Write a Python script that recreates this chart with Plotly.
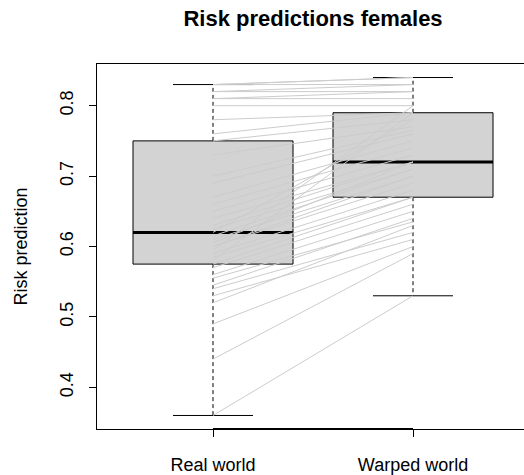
import numpy as np
import plotly.graph_objects as go

categories = ["Real world", "Warped world"]
title_text = "Risk predictions females"
y_label = "Risk prediction"
y_ticks = [0.4, 0.5, 0.6, 0.7, 0.8]

real_world = [0.36, 0.44, 0.49, 0.52, 0.53, 0.54, 0.545, 0.555, 0.56, 0.57,
              0.575, 0.58, 0.585, 0.59, 0.595, 0.60, 0.60, 0.605, 0.61, 0.615,
              0.62, 0.625, 0.63, 0.64, 0.65, 0.66, 0.67, 0.69, 0.70, 0.73,
              0.75, 0.76, 0.78, 0.80, 0.81, 0.81, 0.82, 0.82, 0.83, 0.83, 0.83]
warped_world = [0.53, 0.59, 0.60, 0.63, 0.61, 0.62, 0.64, 0.635, 0.65, 0.66,
                0.67, 0.79, 0.67, 0.68, 0.80, 0.69, 0.70, 0.72, 0.70, 0.71,
                0.78, 0.71, 0.72, 0.72, 0.73, 0.74, 0.75, 0.76, 0.765, 0.77,
                0.78, 0.79, 0.79, 0.80, 0.81, 0.82, 0.82, 0.83, 0.83, 0.84, 0.84]

FONT = "Liberation Sans, Arial, Helvetica, sans-serif"
BOX_HALF = 0.4
CAP_HALF = 0.2

W, H = 524, 475
ML, MT, MB = 97, 64, 46
PW = W - ML


def fivenum(v):
    v = np.sort(np.asarray(v, dtype=float))
    n = len(v)
    n4 = np.floor((n + 3) / 2) / 2
    d = np.array([1, n4, (n + 1) / 2, n + 1 - n4, n]) - 1
    return 0.5 * (v[np.floor(d).astype(int)] + v[np.ceil(d).astype(int)])


def box_stats(v):
    v = np.asarray(v, dtype=float)
    mn, q1, med, q3, mx = fivenum(v)
    iqr = q3 - q1
    lo = v[v >= q1 - 1.5 * iqr].min()
    hi = v[v <= q3 + 1.5 * iqr].max()
    return lo, q1, med, q3, hi


fig = go.Figure()

for i, vals in enumerate([real_world, warped_world]):
    c = i + 1
    lo, q1, med, q3, hi = box_stats(vals)
    fig.add_trace(go.Scatter(x=[c, c, None, c, c], y=[q3, hi, None, q1, lo],
                             mode="lines", line=dict(color="black", width=1, dash="4px,3px"),
                             hoverinfo="skip", showlegend=False))
    fig.add_trace(go.Scatter(x=[c - CAP_HALF, c + CAP_HALF, None, c - CAP_HALF, c + CAP_HALF],
                             y=[hi, hi, None, lo, lo],
                             mode="lines", line=dict(color="black", width=1),
                             hoverinfo="skip", showlegend=False))
    fig.add_trace(go.Scatter(x=[c - BOX_HALF, c + BOX_HALF, c + BOX_HALF, c - BOX_HALF, c - BOX_HALF],
                             y=[q1, q1, q3, q3, q1], mode="lines", fill="toself",
                             fillcolor="#D3D3D3", line=dict(color="black", width=1),
                             hoverinfo="skip", showlegend=False))
    fig.add_trace(go.Scatter(x=[c - BOX_HALF, c + BOX_HALF], y=[med, med], mode="lines",
                             line=dict(color="black", width=3),
                             hoverinfo="skip", showlegend=False))

xs, ys = [], []
for r, w in zip(real_world, warped_world):
    xs += [1, 2, None]
    ys += [r, w, None]
fig.add_trace(go.Scatter(x=xs, y=ys, mode="lines", line=dict(color="#CCCCCC", width=1),
                         hoverinfo="skip", showlegend=False))

allv = np.concatenate([real_world, warped_world])
ypad = 0.04 * (allv.max() - allv.min())

fig.update_layout(
    width=W, height=H,
    margin=dict(l=ML, r=0, t=MT, b=MB, autoexpand=False),
    paper_bgcolor="white", plot_bgcolor="white",
    font=dict(family=FONT, size=18, color="black"),
    title=dict(text="<b>" + title_text + "</b>", x=(313 - ML) / PW, xref="paper",
               xanchor="center", y=1 - 18 / H, yref="container", yanchor="middle",
               font=dict(size=22, family=FONT, color="black")),
    xaxis=dict(range=[0.42, 2.555], tickvals=[1, 2], ticktext=categories,
               ticks="outside", ticklen=7, tickcolor="black", showline=True, mirror=True,
               linecolor="black", linewidth=1, showgrid=False, zeroline=False,
               ticklabelstandoff=12, tickfont=dict(size=18)),
    yaxis=dict(range=[allv.min() - ypad, allv.max() + ypad], tickvals=y_ticks,
               ticktext=[f"{t:.1f}" for t in y_ticks], tickangle=-90,
               ticks="outside", ticklen=7, tickcolor="black", showline=True, mirror=False,
               linecolor="black", linewidth=1, showgrid=False, zeroline=False,
               ticklabelstandoff=9, tickfont=dict(size=18)),
    annotations=[dict(text=y_label, x=(20 - ML) / PW, xref="paper", xanchor="center",
                      y=0.5, yref="paper", yanchor="middle",
                      textangle=-90, showarrow=False, font=dict(size=18, family=FONT))],
)
fig.add_shape(type="line", x0=1, x1=2, y0=0, y1=0, xref="x", yref="paper",
              line=dict(color="black", width=2))

fig.write_html("out.html", config={"displayModeBar": False},
               post_script="document.body.style.margin='0';")
